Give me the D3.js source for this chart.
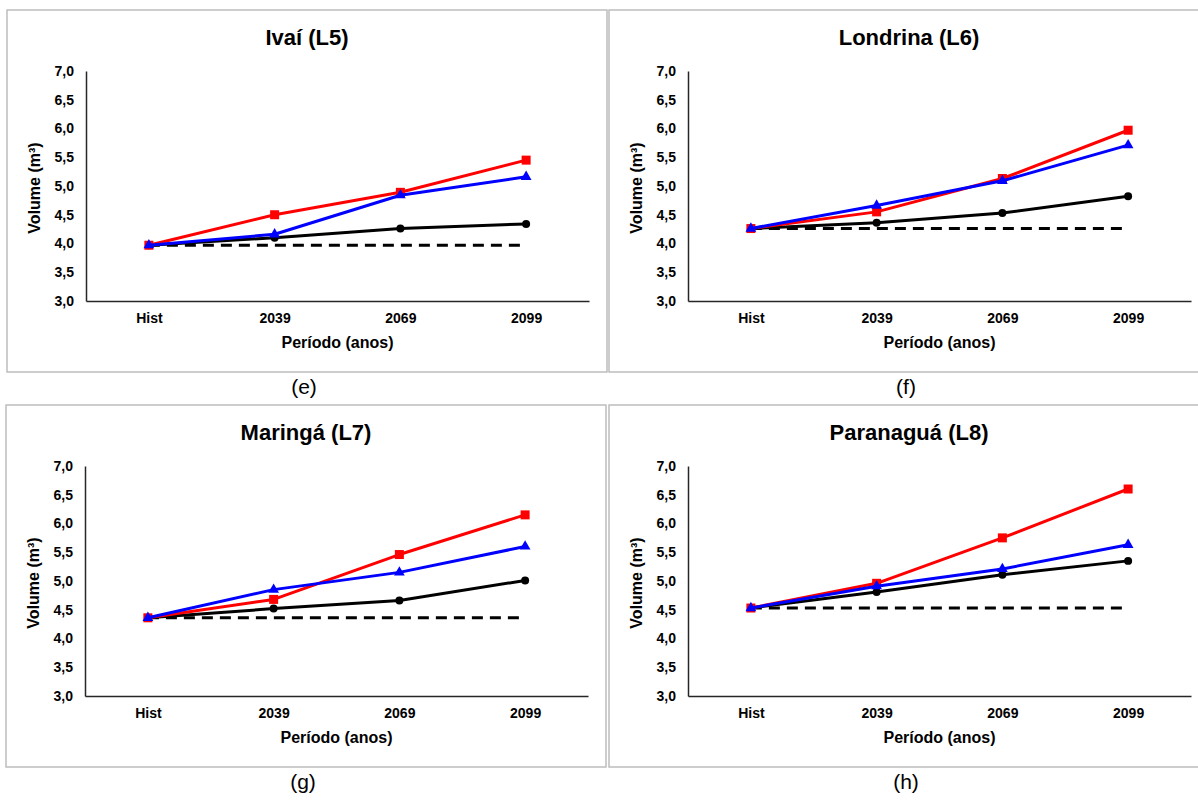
<!DOCTYPE html>
<html>
<head>
<meta charset="utf-8">
<script src="https://cdn.jsdelivr.net/npm/d3@7"></script>
<style>
  html, body { margin: 0; padding: 0; background: #ffffff; }
  svg { display: block; font-family: "Liberation Sans", Arial, sans-serif; }
</style>
</head>
<body>
<script>
// Periods on the x axis and y tick values
const periods = ["Hist", "2039", "2069", "2099"];
const yTicks = [3.0, 3.5, 4.0, 4.5, 5.0, 5.5, 6.0, 6.5, 7.0];

// One entry per panel: Ivaí, Londrina, Maringá, Paranaguá
const titles = ["Ivaí (L5)", "Londrina (L6)", "Maringá (L7)", "Paranaguá (L8)"];
const letters = ["(e)", "(f)", "(g)", "(h)"];

// Historical reference volume (dashed line)
const histVals = [3.97, 4.26, 4.36, 4.53];

// Projected volumes per period (Hist, 2039, 2069, 2099)
const redVals = [
  [3.97, 4.50, 4.89, 5.45],
  [4.26, 4.55, 5.13, 5.97],
  [4.36, 4.68, 5.46, 6.15],
  [4.53, 4.96, 5.75, 6.60]
];
const blueVals = [
  [3.97, 4.16, 4.84, 5.16],
  [4.26, 4.66, 5.09, 5.71],
  [4.36, 4.85, 5.15, 5.60],
  [4.53, 4.91, 5.21, 5.63]
];
const blackVals = [
  [3.97, 4.10, 4.26, 4.34],
  [4.26, 4.36, 4.53, 4.82],
  [4.36, 4.52, 4.66, 5.01],
  [4.53, 4.81, 5.11, 5.35]
];

const W = 1198, H = 800;
const svg = d3.select("body").append("svg").attr("width", W).attr("height", H);

// Panel frames
const panelW = 600, panelH = 362;
const origins = [[7, 10], [609, 10], [6, 405], [609, 405]];
const plot = { left: 79, right: 582, top: 61, bottom: 291 };

const fmt = d => d3.format(".1f")(d).replace(".", ",");

const series = [
  { vals: blackVals, color: "#000000", symbol: d3.symbolCircle, size: 50 },
  { vals: redVals, color: "#ff0000", symbol: d3.symbolSquare, size: 81 },
  { vals: blueVals, color: "#0000ff", symbol: d3.symbolTriangle, size: 50 }
];

titles.forEach((title, i) => {
  const [ox, oy] = origins[i];
  const g = svg.append("g").attr("transform", `translate(${ox},${oy})`);

  g.append("rect")
    .attr("x", 0).attr("y", 0)
    .attr("width", panelW).attr("height", panelH)
    .attr("fill", "#ffffff")
    .attr("stroke", "#bdbdbd")
    .attr("stroke-width", 1.5);

  const x = d3.scalePoint().domain(periods).range([plot.left, plot.right]).padding(0.5);
  const y = d3.scaleLinear().domain([3, 7]).range([plot.bottom, plot.top]);

  // Axes
  const yAxis = g.append("g")
    .attr("transform", `translate(${plot.left},0)`)
    .call(d3.axisLeft(y).tickValues(yTicks).tickSize(0).tickPadding(12).tickFormat(fmt));
  const xAxis = g.append("g")
    .attr("transform", `translate(0,${plot.bottom})`)
    .call(d3.axisBottom(x).tickSize(0).tickPadding(12));

  [yAxis, xAxis].forEach(a => {
    a.select(".domain").attr("stroke", "#262626").attr("stroke-width", 1.5);
    a.selectAll("text")
      .attr("fill", "#000")
      .style("font-size", "14px")
      .style("font-weight", "bold")
      .style("font-family", "'Liberation Sans', Arial, sans-serif");
  });

  // Title
  g.append("text")
    .attr("x", panelW / 2).attr("y", 35)
    .attr("text-anchor", "middle")
    .style("font-size", "22px").style("font-weight", "bold")
    .text(title);

  // Axis titles
  g.append("text")
    .attr("x", (plot.left + plot.right) / 2).attr("y", 338)
    .attr("text-anchor", "middle")
    .style("font-size", "16px").style("font-weight", "bold")
    .text("Período (anos)");

  g.append("text")
    .attr("transform", `translate(33,178) rotate(-90)`)
    .attr("text-anchor", "middle")
    .style("font-size", "16px").style("font-weight", "bold")
    .text("Volume (m³)");

  // Historical reference (dashed)
  g.append("line")
    .attr("x1", x(periods[0])).attr("x2", x(periods[periods.length - 1]))
    .attr("y1", y(histVals[i])).attr("y2", y(histVals[i]))
    .attr("stroke", "#000").attr("stroke-width", 3)
    .attr("stroke-dasharray", "11,7");

  const line = d3.line().x((d, k) => x(periods[k])).y(d => y(d));

  series.forEach(s => {
    const vals = s.vals[i];
    g.append("path")
      .datum(vals)
      .attr("d", line)
      .attr("fill", "none")
      .attr("stroke", s.color)
      .attr("stroke-width", 3)
      .attr("stroke-linejoin", "round");
    g.selectAll(null)
      .data(vals)
      .enter().append("path")
      .attr("transform", (d, k) => `translate(${x(periods[k])},${y(d)})`)
      .attr("d", d3.symbol().type(s.symbol).size(s.size))
      .attr("fill", s.color);
  });

  // Panel letter below the frame
  svg.append("text")
    .attr("x", ox + panelW / 2 - 3).attr("y", oy + panelH + 22)
    .attr("text-anchor", "middle")
    .style("font-size", "21px")
    .text(letters[i]);
});
</script>
</body>
</html>
